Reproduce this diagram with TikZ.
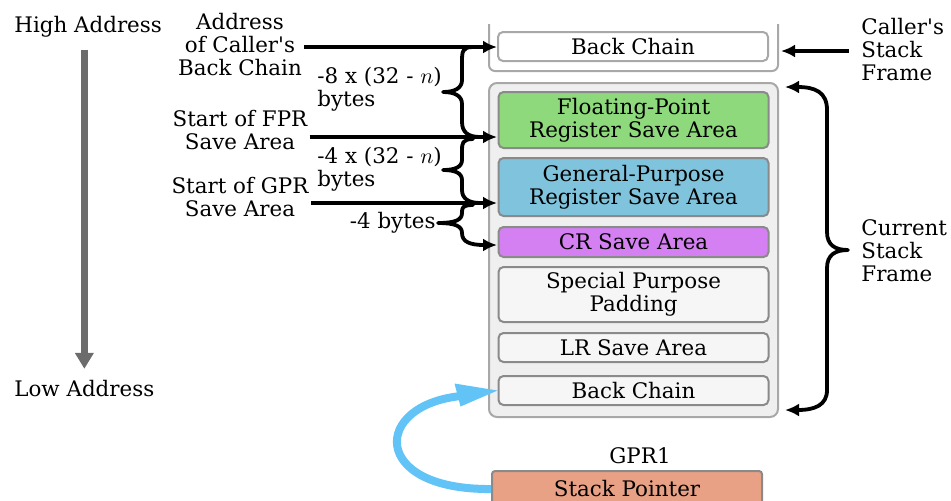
\documentclass[tikz,border=0pt]{standalone}
\usepackage{fontspec}
\setmainfont{DejaVu Serif}
\usepackage{xcolor}
\usepackage{tikz}
\usetikzlibrary{arrows.meta}

\definecolor{framefill}{HTML}{EFEFEF}
\definecolor{frameline}{HTML}{A8A8A8}
\definecolor{slotfill}{HTML}{F6F6F6}
\definecolor{slotline}{HTML}{8A8A8A}
\definecolor{fprgreen}{HTML}{8ED97C}
\definecolor{gprblue}{HTML}{7FC4DC}
\definecolor{crpurple}{HTML}{D47FF2}
\definecolor{spsalmon}{HTML}{E9A185}
\definecolor{spblue}{HTML}{62C3F7}
\definecolor{addrgray}{HTML}{6C6C6C}

\begin{document}
\begin{tikzpicture}[x=0.5pt,y=-0.5pt,
  font=\fontsize{10.7}{11.5}\selectfont,
  slot/.style={draw=slotline,line width=1pt,rounded corners=2.5pt,fill=slotfill,
    minimum width=135pt,align=center,inner sep=0pt},
  lbl/.style={align=center,inner sep=1pt},
  ptr/.style={line width=1.9pt,-{Latex[length=7pt,width=6.5pt]}},
  brace/.style={line width=1.9pt,line cap=round,line join=round}]
\useasboundingbox (0,0) rectangle (951,500);

% address direction
\node[anchor=west,inner sep=0pt] (high) at (14,27) {High Address};
\node[anchor=west,inner sep=0pt] (low) at (14,389) {Low Address};
\draw[line width=3.5pt,addrgray,-{Triangle[length=8pt,width=9pt]}]
  ([yshift=-6pt]high.south -| low.north) -- ([yshift=5.75pt]low.north);

% caller's frame
\draw[line width=1pt,frameline,rounded corners=3pt] (489,24) -- (489,71) -- (778,71) -- (778,24);
\node[slot,fill=white,draw=frameline,minimum height=14.5pt] (cbc) at (633,46.5) {Back Chain};

% current frame
\draw[line width=1pt,frameline,fill=framefill,rounded corners=4pt] (489,83) rectangle (778,417);
\node[slot,fill=fprgreen,minimum height=28pt] (fpr) at (633.5,120) {Floating-Point\\Register Save Area};
\node[slot,fill=gprblue,minimum height=29pt] (gpr) at (633.5,187) {General-Purpose\\Register Save Area};
\node[slot,fill=crpurple,minimum height=15pt] (cr) at (633.5,242) {CR Save Area};
\node[slot,minimum height=27.5pt] (spp) at (633.5,294.5) {Special Purpose\\Padding};
\node[slot,minimum height=14.5pt] (lr) at (633.5,347.5) {LR Save Area};
\node[slot,minimum height=14.5pt] (cbk) at (633.5,390.5) {Back Chain};

% stack pointer
\node (gpr1) at (640,456) {GPR1};
\node[slot,fill=spsalmon,minimum height=18pt,rounded corners=1.5pt] (sp) at (627,489) {Stack Pointer};
\coordinate (spbend) at (461,396);
\draw[line width=4pt,spblue] (sp.west) .. controls (370,490) and (372,405) .. (spbend);
\fill[spblue] (cbk.west) -- ([shift={(-43,-7)}]cbk.west) -- ([shift={(-37,16)}]cbk.west) -- cycle;

% left labels and pointers
\node[lbl] (cbaddr) at (240,45) {Address\\of Caller\textquotesingle s\\Back Chain};
\node[lbl] (fprstart) at (240,130) {Start of FPR\\Save Area};
\node[lbl] (gprstart) at (240,197) {Start of GPR\\Save Area};
\coordinate (cbin) at (497,47);
\coordinate (fprin) at (497,137);
\coordinate (gprin) at (497,203);
\draw[ptr] (cbaddr.east |- cbin) -- (cbin);
\draw[ptr] (fprstart.east |- fprin) -- (fprin);
\draw[ptr] (gprstart.east |- gprin) -- (gprin);

% sizes
\node[lbl,align=left,anchor=west] (fprsize) at (315,89) {-8 x (32 - $n$)\\bytes};
\node[lbl,align=left,anchor=west] (gprsize) at (315,169) {-4 x (32 - $n$)\\bytes};
\node[lbl,anchor=east] (crsize) at (438,223) {-4 bytes};
\draw[brace] (473,47) .. controls (462,47) and (462,52) .. (462,62) -- (462,80)
  .. controls (462,88) and (455,92) .. (443,92) .. controls (455,92) and (462,96) .. (462,104)
  -- (462,122) .. controls (462,132) and (468,137) .. (480,137);
\draw[brace] (473,139) .. controls (462,139) and (462,144) .. (462,150) -- (462,160)
  .. controls (462,167) and (455,170) .. (443,170) .. controls (455,170) and (462,173) .. (462,180)
  -- (462,190) .. controls (462,198) and (468,203) .. (480,203);
\draw[brace,-{Latex[length=7pt,width=6.5pt]}] (473,205) .. controls (462,205) and (462,208) .. (462,213)
  .. controls (462,220) and (455,223) .. (crsize.east) .. controls (455,223) and (462,226) .. (462,233)
  .. controls (462,242) and (470,245) .. (497,245);

% right labels
\node[lbl,align=left,anchor=west,inner sep=0pt] (caller) at (861,50) {Caller\textquotesingle s\\Stack\\Frame};
\node[lbl,align=left,anchor=west,inner sep=0pt] (current) at (861,251) {Current\\Stack\\Frame};
\coordinate (callin) at (781,51);
\draw[ptr,shorten <=6pt] (caller.west |- callin) -- (callin);
\draw[brace,{Latex[length=7pt,width=6.5pt]}-{Latex[length=7pt,width=6.5pt]}]
  (785,87) .. controls (815,87) and (827,92) .. (827,110) -- (827,232)
  .. controls (827,245) and (835,250) .. (848,250) .. controls (835,250) and (827,255) .. (827,268)
  -- (827,390) .. controls (827,405) and (815,410) .. (785,410);
\end{tikzpicture}
\end{document}
